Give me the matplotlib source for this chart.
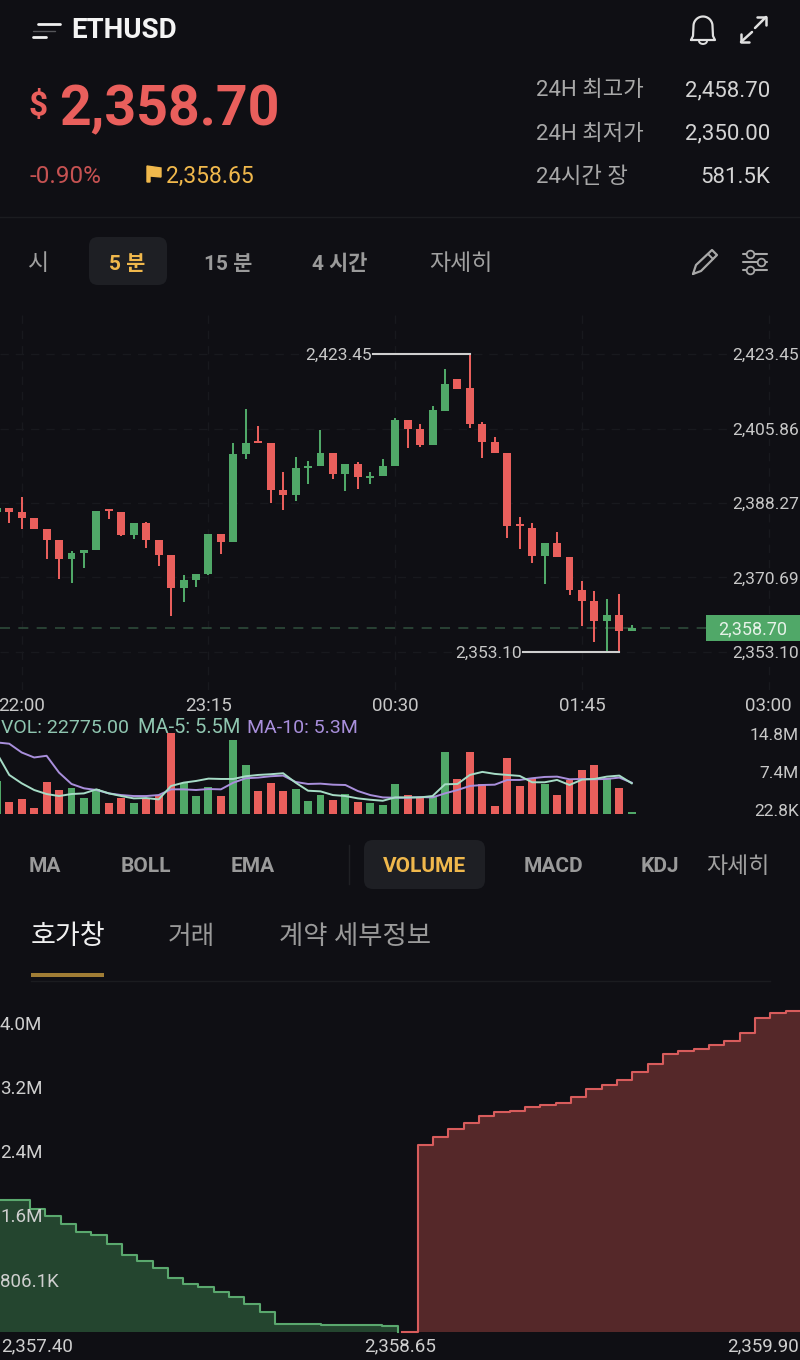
import numpy as np
import matplotlib
matplotlib.use('Agg')
import matplotlib.pyplot as plt
from matplotlib.patches import FancyBboxPatch, Rectangle, Polygon

# candles, 5 minute bars, index 0 is 22:00
bar_index = list(range(-2, 50))
opens = [2386.23, 2387.09, 2386.07, 2384.65, 2382.21, 2379.62, 2375.05, 2376.55, 2377.10, 2386.78, 2386.07, 2380.80, 2383.47,
         2379.46, 2376.00, 2368.29, 2370.02, 2371.44, 2381.04, 2378.99, 2399.76, 2402.83, 2402.36, 2391.34, 2390.16, 2396.54,
         2397.09, 2400.08, 2395.04, 2397.40, 2394.10, 2394.73, 2397.09, 2407.79, 2405.67, 2401.89, 2410.07, 2417.63, 2415.35,
         2407.00, 2402.60, 2400.16, 2383.32, 2382.37, 2375.84, 2378.75, 2375.60, 2367.74, 2365.14, 2360.50, 2361.76, 2358.13]
closes = [2387.02, 2386.15, 2384.65, 2382.21, 2379.62, 2375.05, 2376.39, 2377.10, 2386.31, 2386.31, 2380.72, 2383.47, 2379.46,
          2376.00, 2368.29, 2370.02, 2371.44, 2381.04, 2378.99, 2399.76, 2402.44, 2402.36, 2391.34, 2390.16, 2396.46, 2397.09,
          2400.08, 2395.04, 2397.40, 2394.49, 2394.57, 2397.09, 2407.87, 2405.67, 2401.89, 2410.23, 2416.37, 2415.27, 2406.92,
          2402.68, 2400.00, 2382.85, 2382.85, 2375.76, 2378.75, 2375.53, 2367.74, 2365.22, 2360.50, 2361.76, 2358.13, 2358.70]
highs = [2387.02, 2387.09, 2389.77, 2384.65, 2382.21, 2379.62, 2376.94, 2377.10, 2386.31, 2386.78, 2386.07, 2383.47, 2383.87,
         2379.46, 2376.00, 2371.20, 2371.44, 2381.04, 2381.04, 2402.36, 2410.47, 2406.37, 2402.36, 2395.67, 2399.13, 2398.27,
         2405.51, 2400.08, 2397.40, 2398.03, 2395.59, 2398.58, 2408.26, 2407.79, 2406.85, 2411.17, 2419.91, 2417.63, 2423.45,
         2407.32, 2403.78, 2400.16, 2385.05, 2383.63, 2378.83, 2381.51, 2375.60, 2369.86, 2367.58, 2365.69, 2366.79, 2359.40]
lows = [2386.23, 2383.47, 2382.06, 2382.21, 2375.05, 2370.25, 2369.39, 2373.01, 2377.10, 2384.58, 2380.56, 2379.86, 2377.73,
        2373.40, 2361.60, 2364.82, 2368.52, 2371.36, 2376.16, 2378.99, 2398.74, 2402.36, 2388.20, 2386.62, 2388.75, 2392.76,
        2397.09, 2393.86, 2391.03, 2391.58, 2392.84, 2394.73, 2397.09, 2401.34, 2401.42, 2401.89, 2410.07, 2415.11, 2405.90,
        2398.90, 2400.00, 2380.01, 2377.49, 2374.19, 2369.23, 2375.53, 2366.48, 2359.32, 2355.46, 2353.10, 2353.10, 2358.13]

# volume in millions
volumes = [6.04, 2.16, 2.71, 0.93, 5.74, 4.32, 4.63, 2.84, 4.44, 1.85, 2.78, 1.85, 2.59, 3.39, 14.8, 5.55, 3.15, 4.93, 3.27,
           13.57, 8.94, 4.13, 5.67, 4.19, 4.56, 2.34, 3.33, 2.47, 3.52, 2.10, 1.97, 1.60, 5.37, 3.39, 2.96, 3.21, 11.29, 6.35,
           11.22, 5.43, 1.42, 10.24, 5.00, 6.48, 5.43, 3.45, 6.17, 8.02, 8.88, 6.60, 4.75, 0.0228]
ma5 = [11.10, 7.09, 5.55, 4.32, 3.58, 3.21, 3.58, 3.70, 4.44, 3.70, 3.21, 2.78, 2.84, 2.59, 5.06, 5.67, 5.98, 6.41, 6.35, 6.35,
       6.85, 7.09, 7.22, 7.40, 5.67, 4.19, 4.07, 3.39, 3.21, 2.78, 2.53, 2.34, 2.96, 2.96, 2.96, 3.21, 5.37, 5.43, 7.09, 7.65,
       7.28, 7.09, 6.91, 5.74, 5.74, 6.17, 5.24, 6.23, 6.35, 6.78, 6.97, 5.55]
ma10 = [13.07, 12.83, 11.22, 10.30, 10.61, 7.52, 5.43, 4.63, 4.32, 3.70, 3.39, 3.21, 3.21, 3.39, 4.44, 4.44, 4.32, 4.50, 4.44,
        5.67, 6.48, 6.60, 6.85, 6.97, 5.80, 5.43, 5.49, 5.30, 5.24, 4.13, 3.39, 2.96, 2.90, 2.90, 3.02, 2.96, 3.70, 4.32, 5.06,
        5.24, 5.30, 6.17, 6.17, 6.48, 6.72, 6.78, 6.29, 6.35, 6.29, 6.35, 6.60, 5.67]

price_ticks = [2423.45, 2405.86, 2388.27, 2370.69, 2353.10]
time_ticks = [0, 15, 30, 45, 60]
time_labels = ['22:00', '23:15', '00:30', '01:45', '03:00']
last_price = 2358.70

# order book, cumulative size in millions
bid_prices = [2357.335, 2357.385, 2357.435, 2357.485, 2357.535, 2357.585, 2357.635, 2357.685, 2357.735, 2357.785, 2357.835,
              2357.885, 2357.935, 2357.985, 2358.035, 2358.085, 2358.135, 2358.185, 2358.235, 2358.285, 2358.335, 2358.385,
              2358.435, 2358.485, 2358.535, 2358.585, 2358.635]
bid_depth = [1.646, 1.646, 1.542, 1.446, 1.35, 1.25, 1.217, 1.104, 0.967, 0.883, 0.796, 0.679, 0.60, 0.567, 0.496, 0.4375,
             0.35, 0.25, 0.104, 0.10, 0.096, 0.092, 0.09, 0.0875, 0.083, 0.079, 0.0]
ask_prices = [2358.65, 2358.70, 2358.75, 2358.80, 2358.85, 2358.90, 2358.95, 2359.00, 2359.05, 2359.10, 2359.15, 2359.20,
              2359.25, 2359.30, 2359.35, 2359.40, 2359.45, 2359.50, 2359.55, 2359.60, 2359.65, 2359.70, 2359.75, 2359.80,
              2359.85, 2359.90, 2359.95]
ask_depth = [0.0, 2.3375, 2.442, 2.533, 2.617, 2.70, 2.746, 2.758, 2.817, 2.842, 2.858, 2.9375, 3.033, 3.092, 3.146, 3.254,
             3.346, 3.475, 3.5125, 3.542, 3.5875, 3.6375, 3.733, 3.921, 3.9875, 4.008, 4.008]

BG = '#0f0f14'
RED = '#e95f5c'
GREEN = '#50a868'
YELLOW = '#f0b84c'
GRID = '#18191e'
NUM = ['Roboto', 'Noto Sans CJK KR']

fig = plt.figure(figsize=(8, 13.6), dpi=100, facecolor=BG)


def add_ax(x0, y0, x1, y1, **kw):
    ax = fig.add_axes([x0 / 800, 1 - y1 / 1360, (x1 - x0) / 800, (y1 - y0) / 1360], **kw)
    ax.patch.set_visible(False)
    for s in ax.spines.values():
        s.set_visible(False)
    return ax


# page layer in pixels, holds the app chrome
page = add_ax(0, 0, 800, 1360, zorder=5)
page.set_xlim(0, 800)
page.set_ylim(1360, 0)
page.axis('off')


def txt(x, y, s, size=15, color='#c8c8c8', ha='left', weight='normal', family=NUM):
    page.text(x, y, s, fontsize=size, color=color, ha=ha, va='baseline', fontweight=weight, family=family)


def line(xs, ys, color='#e8e8e8', lw=1.6):
    page.plot(xs, ys, color=color, lw=lw, solid_capstyle='round', solid_joinstyle='round')


# header
line([38, 60], [24, 24], '#f0f0f0', 2)
line([33, 46], [37, 37], '#f0f0f0', 2)
line([33, 55], [30.5, 30.5], '#55565a', 1)
txt(71, 38.5, 'ETHUSD', 20, '#f4f4f4', weight='bold')
txt(29, 115, '$', 24, RED, weight='bold')
txt(59, 125, '2,358.70', 40, RED, weight='bold')
txt(30, 183, '-0.90%', 17.5, '#c65252')
page.add_patch(Polygon([[147, 166], [161, 168], [161, 177], [150, 176], [150, 182], [147, 182]], color=YELLOW))
txt(166, 183, '2,358.65', 16.5, YELLOW)
for y, lab, val in [(96.5, '24H 최고가', '2,458.70'), (139.5, '24H 최저가', '2,350.00'), (183, '24시간 장', '581.5K')]:
    txt(536, y, lab, 16, '#a8a8a8')
    txt(770, y, val, 16, '#d4d4d4', ha='right')

# bell and expand icons
t = np.linspace(np.pi, 0, 30)
bell_x = [691, 693] + list(703 + 9.5 * np.cos(t)) + [713, 715, 691]
bell_y = [40, 36] + list(26 - 9.5 * np.sin(t)) + [36, 40, 40]
line(bell_x, bell_y, '#e0e0e0', 1.6)
line(699 + 4 * np.cos(np.linspace(np.pi, 2 * np.pi, 10)) + 4, 41 + 3 * -np.sin(np.linspace(np.pi, 2 * np.pi, 10)), '#e0e0e0', 1.4)
line([741, 752], [42, 32], '#e0e0e0', 1.8)
line([741, 741, 749], [34, 42, 42], '#e0e0e0', 1.8)
line([755, 766], [28, 17], '#e0e0e0', 1.8)
line([757, 766, 766], [17, 17, 25], '#e0e0e0', 1.8)

page.plot([0, 800], [216.5, 216.5], color='#1b1c20', lw=1)

# interval tabs
page.add_patch(FancyBboxPatch((89, 237), 78, 48, boxstyle='round,pad=0,rounding_size=9', lw=0, color='#1e1f24'))
txt(39, 270, '시', 16.5, '#a0a0a0', ha='center')
txt(127, 270, '5 분', 15, YELLOW, ha='center', weight='bold')
txt(228, 270, '15 분', 15, '#9a9a9a', ha='center', weight='bold')
txt(340, 270, '4 시간', 15, '#9a9a9a', ha='center', weight='bold')
txt(461, 270, '자세히', 16.5, '#a0a0a0', ha='center')

# pencil and settings icons
line([693, 696, 712, 717, 701, 693, 693], [274, 265, 250, 255, 271, 274, 274], '#a8a8a8', 1.6)
line([708, 713], [254, 259], '#a8a8a8', 1.4)
for y, cx in [(254, 750), (262, 761), (270, 750)]:
    line([743, cx - 3], [y, y], '#a8a8a8', 1.5)
    line([cx + 3, 767], [y, y], '#a8a8a8', 1.5)
    page.plot([cx], [y], 'o', ms=5.5, mfc=BG, mec='#a8a8a8', mew=1.3)

# candles
ax = add_ax(0, 315, 800, 690, zorder=2)
ax.set_xlim((0 - 21.7) / 12.45, (800 - 21.7) / 12.45)
ax.set_ylim(2344.13, 2432.66)
ax.set_xticks(time_ticks)
ax.set_yticks(price_ticks)
ax.tick_params(length=0, labelleft=False, labelbottom=False)
ax.grid(True, color=GRID, lw=1, ls=(0, (6, 5)))
ax.set_axisbelow(True)

x = np.array(bar_index)
o = np.array(opens)
c = np.array(closes)
colors = [GREEN if c[i] >= o[i] else RED for i in range(len(x))]
ax.vlines(x, lows, highs, colors=colors, lw=1.45, zorder=3)
ax.bar(x, np.maximum(np.abs(c - o), 0.3), bottom=np.minimum(o, c), width=0.64, color=colors, zorder=4)

ax.hlines(last_price, ax.get_xlim()[0], 55.0, colors='#2e4a3a', lw=1.2, linestyles=(0, (6, 5)), zorder=2)

# max and min markers
imax = int(np.argmax(highs))
imin = len(lows) - 2
ax.plot([x[imax] - 7.75, x[imax]], [highs[imax], highs[imax]], color='#cfcfcf', lw=1.5, zorder=5)
ax.text(x[imax] - 7.85, highs[imax], '2,423.45', color='#c8c8c8', fontsize=12.5, ha='right', va='center_baseline', family=NUM)
ax.plot([x[imin] - 7.75, x[imin]], [lows[imin], lows[imin]], color='#cfcfcf', lw=1.5, zorder=5)
ax.text(x[imin] - 7.85, lows[imin], '2,353.10', color='#c8c8c8', fontsize=12.5, ha='right', va='center_baseline', family=NUM)

for p in price_ticks:
    ax.text(0.999, p, f'{p:,.2f}', transform=ax.get_yaxis_transform(), color='#c8c8c8', fontsize=12.5, ha='right',
            va='center_baseline', family=NUM, zorder=6, bbox=dict(fc=BG, ec='none', pad=1.0))
for tk, lab in zip(time_ticks, time_labels):
    ax.text(tk, 2344.13 - 3.3, lab, color='#c8c8c8', fontsize=13.5, ha='center', va='center_baseline', family=NUM, clip_on=False)

# last price tag
page.add_patch(Rectangle((706, 615), 94, 26, color=GREEN, lw=0))
txt(752.5, 634, '2,358.70', 13, '#e6f2e8', ha='center')

# volume
vax = add_ax(0, 733, 800, 813.5, zorder=3)
vax.set_xlim(ax.get_xlim())
vax.set_ylim(0, 14.8)
vax.set_xticks([])
vax.set_yticks([])
# very small bars keep a visible minimum height in the app
vax.bar(x, np.maximum(volumes, 0.35), width=0.64, color=colors, zorder=2, lw=0)
vax.plot(x, ma10, color='#a98fdc', lw=1.4, zorder=3)
vax.plot(x, ma5, color='#a6dcc6', lw=1.4, zorder=4)
txt(1, 733, 'VOL: 22775.00', 14, '#8fc6b0')
txt(138, 733, 'MA-5: 5.5M', 14.5, '#8fc6b0')
txt(247, 733, 'MA-10: 5.3M', 14, '#a98fdc')
txt(799, 739.5, '14.8M', 12.5, ha='right')
txt(799, 777.5, '7.4M', 12.5, ha='right')
txt(799, 816, '22.8K', 12.5, ha='right')

# indicator tabs
page.plot([348.5, 348.5], [845, 884], color='#1f2024', lw=1)
page.add_patch(FancyBboxPatch((364, 840), 121, 49, boxstyle='round,pad=0,rounding_size=9', lw=0, color='#1e1f24'))
for cx, lab, col in [(45, 'MA', '#9a9a9a'), (146, 'BOLL', '#9a9a9a'), (253, 'EMA', '#9a9a9a'), (424, 'VOLUME', YELLOW),
                     (553, 'MACD', '#9a9a9a'), (660, 'KDJ', '#9a9a9a')]:
    txt(cx, 872, lab, 15, col, ha='center', weight='bold')
txt(738, 873, '자세히', 16.5, '#a0a0a0', ha='center')

# book tabs
txt(31, 944, '호가창', 19.5, '#f0f0f0')
txt(168, 944, '거래', 18.5, '#9a9a9a')
txt(279, 944, '계약 세부정보', 19, '#9a9a9a')
page.add_patch(Rectangle((31, 973), 73, 3.5, color='#a07d35', lw=0))
page.plot([31, 770], [980.5, 980.5], color='#1b1c20', lw=1)

# depth chart
dax = add_ax(0, 1000, 800, 1334, zorder=3)
dax.set_xlim(2357.3376, 2359.9469)
dax.set_ylim(-0.025, 4.15)
dax.set_xticks([])
dax.set_yticks([])
dax.fill_between(bid_prices, bid_depth, step='post', color='#24452f', lw=0)
dax.step(bid_prices, bid_depth, where='post', color='#5aa86e', lw=1.5)
dax.fill_between(ask_prices, ask_depth, step='post', color='#552829', lw=0)
dax.step(ask_prices, ask_depth, where='post', color='#d85c5c', lw=1.5)

for y, lab in [(1030, '4.0M'), (1094, '3.2M'), (1158, '2.4M'), (1222, '1.6M'), (1287, '806.1K')]:
    txt(0, y, lab, 13.5, '#cfcfcf')
txt(1, 1351, '2,357.40', 13.5, '#cfcfcf')
txt(400, 1351, '2,358.65', 13.5, '#cfcfcf', ha='center')
txt(799, 1351, '2,359.90', 13.5, '#cfcfcf', ha='right')

fig.savefig('out.png', dpi=100, facecolor=BG)
plt.close()
